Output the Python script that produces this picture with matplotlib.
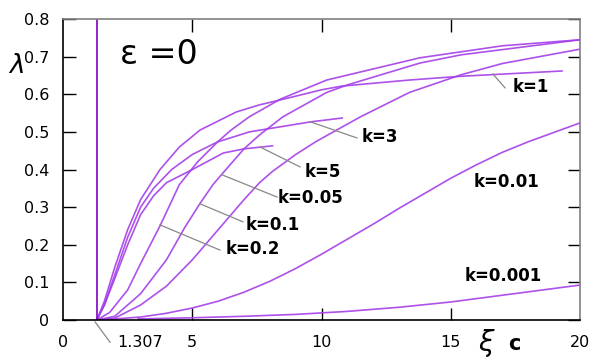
import matplotlib
matplotlib.use('Agg')
import matplotlib.pyplot as plt

# curves: (xi_c, lambda)
x_k5 = [1.307, 1.6, 2.0, 2.5, 3.0, 3.5, 4.0, 5.0, 6.2, 7.0, 8.1]
y_k5 = [0, 0.04, 0.11, 0.20, 0.28, 0.33, 0.365, 0.40, 0.444, 0.455, 0.463]
x_k3 = [1.307, 1.6, 2.0, 2.5, 3.0, 3.5, 4.2, 5.0, 5.96, 7.2, 7.9, 9.6, 10.8]
y_k3 = [0, 0.04, 0.12, 0.22, 0.30, 0.35, 0.40, 0.44, 0.473, 0.50, 0.508, 0.527, 0.537]
x_k1 = [1.307, 1.6, 2.0, 2.5, 3.0, 3.75, 4.5, 5.3, 6.7, 7.6, 8.4, 10.0, 10.8, 13.4, 15.4, 19.3]
y_k1 = [0, 0.05, 0.14, 0.24, 0.32, 0.40, 0.46, 0.505, 0.553, 0.572, 0.585, 0.612, 0.622, 0.638, 0.648, 0.662]
x_k02 = [1.307, 1.8, 2.5, 3.0, 3.75, 4.5, 5.2, 6.0, 6.5, 7.2, 8.4, 10.2, 13.8, 15.4, 17.0, 20.0]
y_k02 = [0, 0.02, 0.08, 0.15, 0.25, 0.36, 0.42, 0.475, 0.505, 0.54, 0.587, 0.638, 0.697, 0.713, 0.729, 0.745]
x_k01 = [1.307, 2.0, 3.0, 4.0, 4.7, 5.3, 5.8, 6.3, 7.0, 7.6, 8.5, 10.2, 11.0, 13.8, 15.4, 20.0]
y_k01 = [0, 0.01, 0.07, 0.16, 0.245, 0.31, 0.36, 0.40, 0.455, 0.492, 0.54, 0.605, 0.625, 0.683, 0.705, 0.745]
x_k005 = [1.307, 2.0, 3.0, 4.0, 5.0, 6.0, 7.0, 7.6, 8.1, 9.0, 9.8, 11.5, 13.4, 15.4, 17.0, 20.0]
y_k005 = [0, 0.005, 0.04, 0.09, 0.16, 0.24, 0.32, 0.365, 0.395, 0.44, 0.475, 0.54, 0.605, 0.652, 0.682, 0.72]
x_k001 = [1.307, 2.0, 3.0, 4.0, 5.0, 6.0, 7.0, 8.0, 9.0, 10.0, 11.0, 12.0, 13.0, 14.0, 15.0, 16.0, 17.0, 18.0, 19.0, 20.0]
y_k001 = [0, 0.003, 0.008, 0.018, 0.032, 0.05, 0.074, 0.103, 0.137, 0.175, 0.215, 0.255, 0.297, 0.337, 0.377, 0.413, 0.446, 0.474, 0.499, 0.524]
x_k0001 = [2.9, 5.0, 7.0, 9.0, 11.0, 13.0, 15.0, 17.0, 20.0]
y_k0001 = [0.003, 0.006, 0.010, 0.015, 0.023, 0.034, 0.048, 0.066, 0.093]

curves = [(x_k5, y_k5), (x_k3, y_k3), (x_k1, y_k1), (x_k02, y_k02),
          (x_k01, y_k01), (x_k005, y_k005), (x_k001, y_k001), (x_k0001, y_k0001)]

# label text, text position, leader from / to (None = no leader)
labels = [
    ('k=1', (18.10, 0.620), (16.63, 0.654), (17.10, 0.617)),
    ('k=3', (12.26, 0.487), (9.56, 0.527), (11.37, 0.484)),
    ('k=5', (10.06, 0.394), (7.62, 0.460), (9.17, 0.407)),
    ('k=0.05', (9.59, 0.324), (6.15, 0.386), (8.28, 0.327)),
    ('k=0.1', (8.12, 0.253), (5.30, 0.309), (6.96, 0.261)),
    ('k=0.2', (7.35, 0.189), (3.75, 0.253), (6.07, 0.186)),
    ('k=0.01', (17.14, 0.367), None, None),
    ('k=0.001', (17.02, 0.117), None, None),
]

xc = 1.307
purple = '#a43ee8'

fig = plt.figure(figsize=(5.98, 3.6), dpi=100)
ax = fig.add_axes([0.1054, 0.111, 0.8646, 0.836])

for xs, ys in curves:
    ax.plot(xs, ys, color=purple, lw=1.2, alpha=0.9)
ax.axvline(xc, color='#8000c0', lw=1.2)

for txt, pos, p0, p1 in labels:
    if p0 is not None:
        ax.plot([p0[0], p1[0]], [p0[1], p1[1]], color='#888888', lw=0.9)
    ax.text(pos[0], pos[1], txt, ha='center', va='center', fontsize=12, fontweight='bold')

ax.set_xlim(0, 20)
ax.set_ylim(0, 0.8)
ax.set_xticks([5, 10, 15])
ax.set_xticklabels([])
ax.set_yticks([0, 0.1, 0.2, 0.3, 0.4, 0.5, 0.6, 0.7, 0.8])
ax.set_yticklabels(['0', '0.1', '0.2', '0.3', '0.4', '0.5', '0.6', '0.7', '0.8'], fontsize=11.5)
ax.tick_params(direction='in', length=9, top=True, right=True, width=1, pad=10)

# x tick labels drawn as text so 0 and 20 sit at the corners
for v in [0, 5, 10, 15, 20]:
    ax.text(v, -0.06, str(v), ha='center', va='center', fontsize=11.5, clip_on=False)
ax.text(2.98, -0.061, '1.307', ha='center', va='center', fontsize=11.5, clip_on=False)
ax.plot([1.24, 1.82], [-0.005, -0.059], color='#888888', lw=0.9, clip_on=False)

ax.text(16.4, -0.062, r'$\xi$', ha='center', va='center', fontsize=20, clip_on=False)
ax.text(17.45, -0.064, 'c', ha='center', va='center', fontsize=15, fontweight='bold', clip_on=False)
ax.text(-1.8, 0.675, r'$\lambda$', ha='center', va='center', fontsize=19, clip_on=False)
ax.text(2.2, 0.705, 'ε =0', ha='left', va='center', fontsize=24)

for s in ['left', 'bottom']:
    ax.spines[s].set_color('black')
    ax.spines[s].set_linewidth(1.2)
for s in ['top', 'right']:
    ax.spines[s].set_color('#808080')
    ax.spines[s].set_linewidth(1.2)

fig.savefig('out.png', dpi=100)
